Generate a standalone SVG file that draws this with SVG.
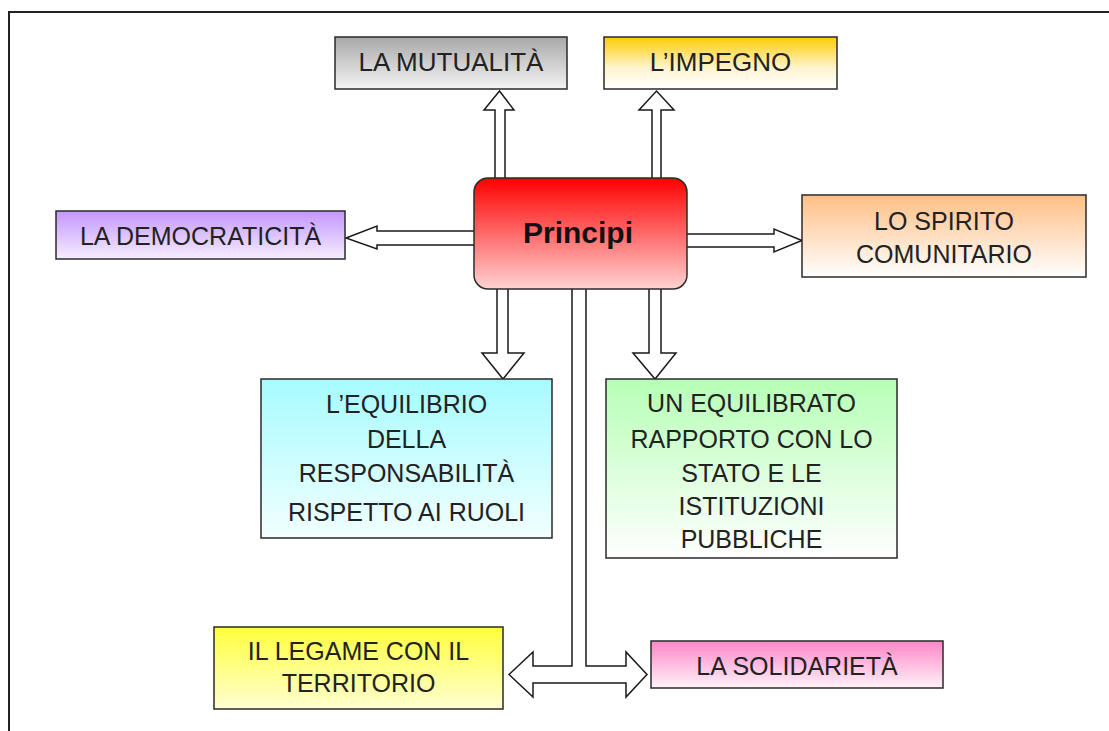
<svg xmlns="http://www.w3.org/2000/svg" width="1109" height="731" viewBox="0 0 1109 731">
<style>
.box{stroke:#2a2a2a;stroke-width:1.5}
.t{font-family:"Liberation Sans",Arial,sans-serif;font-size:25px;fill:#222;text-anchor:middle}
.big{font-size:26px}
.arr{fill:#fff;stroke:#1a1a1a;stroke-width:1.5;stroke-linejoin:miter}
.title{font-family:"Liberation Sans",Arial,sans-serif;font-size:30px;font-weight:bold;fill:#111;text-anchor:middle}
</style>
<defs>
<linearGradient id="gGray" x1="0" y1="0" x2="0" y2="1"><stop offset="0" stop-color="#a8a8a8"/><stop offset="1" stop-color="#f4f4f4"/></linearGradient>
<linearGradient id="gGold" x1="0" y1="0" x2="0" y2="1"><stop offset="0" stop-color="#ffcc00"/><stop offset="0.6" stop-color="#fff4d0"/><stop offset="1" stop-color="#ffffff"/></linearGradient>
<linearGradient id="gPurple" x1="0" y1="0" x2="0" y2="1"><stop offset="0" stop-color="#c496ff"/><stop offset="1" stop-color="#f6eeff"/></linearGradient>
<linearGradient id="gPeach" x1="0" y1="0" x2="0" y2="1"><stop offset="0" stop-color="#ffbf85"/><stop offset="1" stop-color="#ffffff"/></linearGradient>
<linearGradient id="gRed" x1="0" y1="0" x2="0" y2="1"><stop offset="0" stop-color="#ff0000"/><stop offset="1" stop-color="#ffd2d2"/></linearGradient>
<linearGradient id="gCyan" x1="0" y1="0" x2="0" y2="1"><stop offset="0" stop-color="#a6fbff"/><stop offset="1" stop-color="#f2ffff"/></linearGradient>
<linearGradient id="gGreen" x1="0" y1="0" x2="0" y2="1"><stop offset="0" stop-color="#b6ffb6"/><stop offset="1" stop-color="#ffffff"/></linearGradient>
<linearGradient id="gYellow" x1="0" y1="0" x2="0" y2="1"><stop offset="0" stop-color="#ffff3c"/><stop offset="1" stop-color="#ffffd2"/></linearGradient>
<linearGradient id="gPink" x1="0" y1="0" x2="0" y2="1"><stop offset="0" stop-color="#ff86c8"/><stop offset="1" stop-color="#fff2f8"/></linearGradient>
</defs>
<rect width="1109" height="731" fill="#fff"/>
<path d="M9,731 V12 H1109" fill="none" stroke="#222" stroke-width="2"/>

<g id="connectors">
<polygon class="arr" points="495,182 495,110 484,110 499.5,91 514,110 505,110 505,182"/>
<polygon class="arr" points="652,182 652,110 639,110 656.5,91 674,110 661,110 661,182"/>
<polygon class="arr" points="477,231 377,231 377,226 346,238 377,249 377,245 477,245"/>
<polygon class="arr" points="684,234 774,234 774,229 802,240.5 774,252 774,247 684,247"/>
<polygon class="arr" points="497,285 497,353 482,353 503,379 524,353 508,353 508,285"/>
<polygon class="arr" points="649,285 649,353 633,353 655,379 676,353 661,353 661,285"/>
<polygon class="arr" points="572,285 572,666 533,666 533,652 509,674.5 533,697 533,683 626,683 626,697 647,674.5 626,652 626,666 586,666 586,285"/>
</g>

<g id="n-principi">
<rect class="box" x="474" y="178" width="213" height="111" rx="14" fill="url(#gRed)"/>
<text class="title" x="578" y="243">Principi</text>
</g>

<g id="n-mutualita">
<rect class="box" x="335" y="37" width="232" height="52" fill="url(#gGray)"/>
<text class="t big" x="451" y="71">LA MUTUALITÀ</text>
</g>

<g id="n-impegno">
<rect class="box" x="604" y="37" width="233" height="52" fill="url(#gGold)"/>
<text class="t big" x="720.5" y="71">L’IMPEGNO</text>
</g>

<g id="n-democraticita">
<rect class="box" x="56" y="211" width="289" height="48" fill="url(#gPurple)"/>
<text class="t" x="200.5" y="245">LA DEMOCRATICITÀ</text>
</g>

<g id="n-spirito">
<rect class="box" x="802" y="195" width="284" height="82" fill="url(#gPeach)"/>
<text class="t" x="944" y="230">LO SPIRITO</text>
<text class="t" x="944" y="263">COMUNITARIO</text>
</g>

<g id="n-equilibrio">
<rect class="box" x="261" y="379" width="291" height="159" fill="url(#gCyan)"/>
<text class="t" x="406.5" y="413">L’EQUILIBRIO</text>
<text class="t" x="406.5" y="448">DELLA</text>
<text class="t" x="406.5" y="482">RESPONSABILITÀ</text>
<text class="t" x="406.5" y="521">RISPETTO AI RUOLI</text>
</g>

<g id="n-equilibrato">
<rect class="box" x="606" y="379" width="291" height="179" fill="url(#gGreen)"/>
<text class="t" x="751.5" y="412">UN EQUILIBRATO</text>
<text class="t" x="751.5" y="448">RAPPORTO CON LO</text>
<text class="t" x="751.5" y="482">STATO E LE</text>
<text class="t" x="751.5" y="515">ISTITUZIONI</text>
<text class="t" x="751.5" y="548">PUBBLICHE</text>
</g>

<g id="n-legame">
<rect class="box" x="214" y="627" width="289" height="82" fill="url(#gYellow)"/>
<text class="t" x="358.5" y="660">IL LEGAME CON IL</text>
<text class="t" x="358.5" y="692">TERRITORIO</text>
</g>

<g id="n-solidarieta">
<rect class="box" x="651" y="641" width="292" height="47" fill="url(#gPink)"/>
<text class="t" x="797" y="675">LA SOLIDARIETÀ</text>
</g>
</svg>
